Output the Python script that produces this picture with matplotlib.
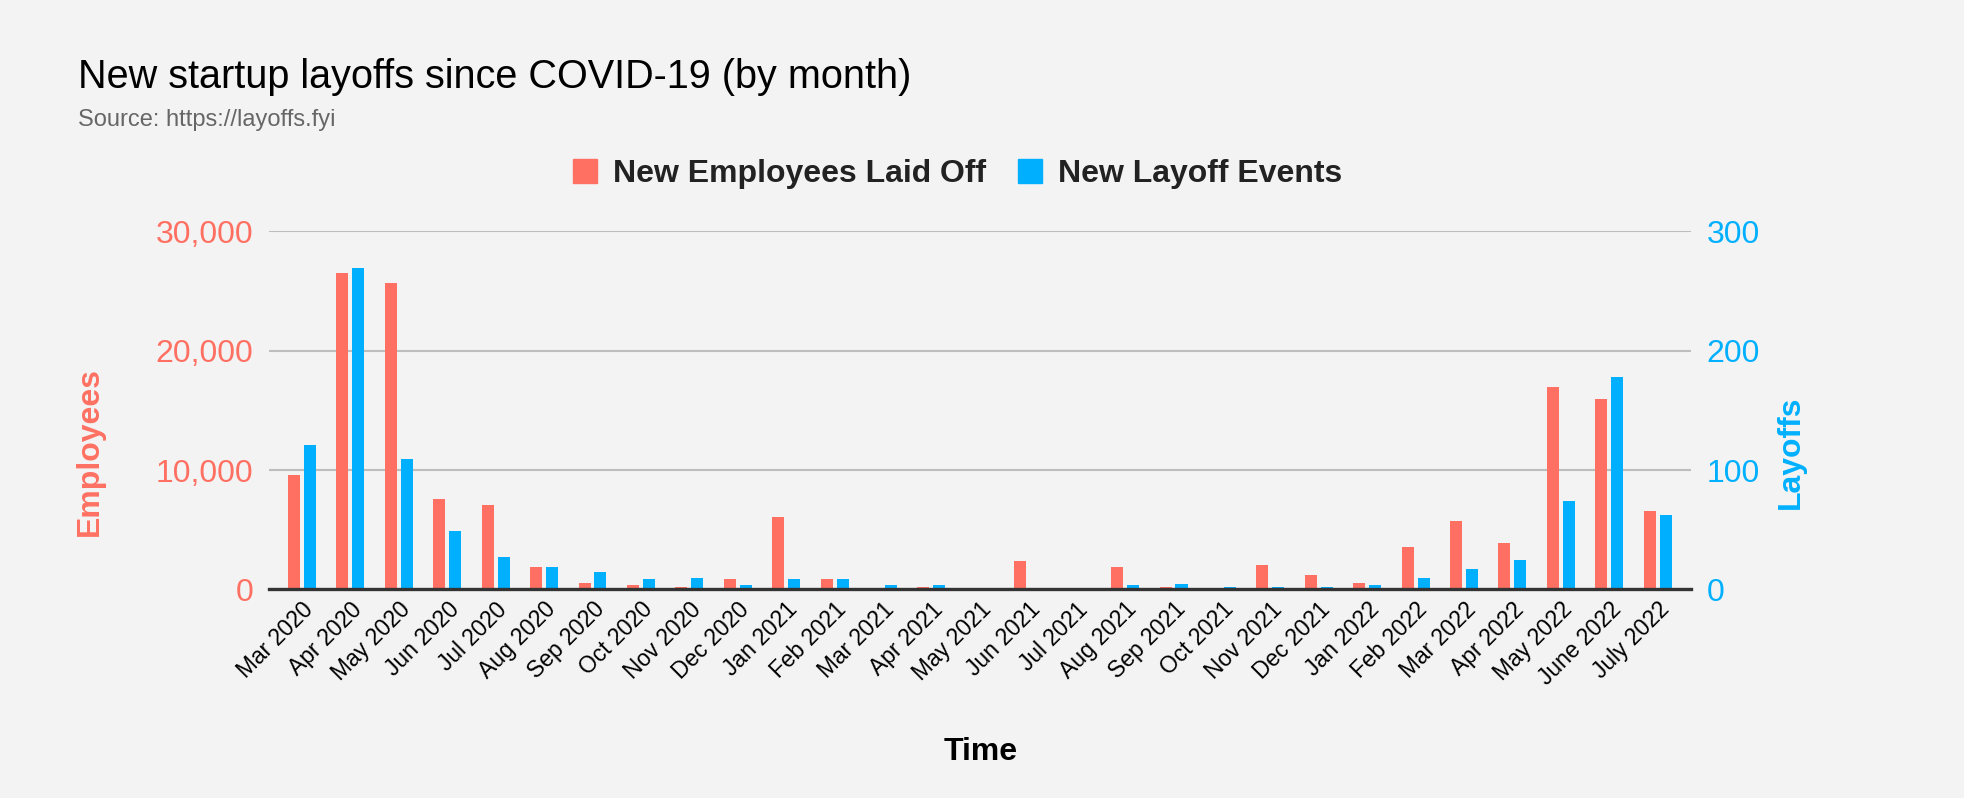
import numpy as np
import matplotlib
matplotlib.use('Agg')
import matplotlib.pyplot as plt
from matplotlib.patches import Patch

plt.rcParams['font.family'] = ['Liberation Sans', 'DejaVu Sans']

months = ['Mar 2020', 'Apr 2020', 'May 2020', 'Jun 2020', 'Jul 2020', 'Aug 2020',
          'Sep 2020', 'Oct 2020', 'Nov 2020', 'Dec 2020', 'Jan 2021', 'Feb 2021',
          'Mar 2021', 'Apr 2021', 'May 2021', 'Jun 2021', 'Jul 2021', 'Aug 2021',
          'Sep 2021', 'Oct 2021', 'Nov 2021', 'Dec 2021', 'Jan 2022', 'Feb 2022',
          'Mar 2022', 'Apr 2022', 'May 2022', 'June 2022', 'July 2022']
employees = [9580, 26540, 25700, 7560, 7070, 1870, 530, 360, 200, 870, 6070, 870,
             0, 200, 0, 2380, 0, 1870, 200, 0, 2040, 1200, 530, 3550,
             5730, 3870, 16970, 15970, 6560]
events = [121, 269, 109, 49, 27, 19, 15, 9, 10, 4, 9, 9,
          4, 4, 0, 0, 0, 4, 5, 2, 2, 2, 4, 10,
          17, 25, 74, 178, 62]

RED = '#ff7062'
BLUE = '#00b0ff'
BG = '#f3f3f3'

fig = plt.figure(figsize=(19.64, 7.98), dpi=100, facecolor=BG)
ax = fig.add_axes([0.137, 0.2613, 0.7238, 0.4486])
ax.set_facecolor(BG)
ax2 = ax.twinx()

x = np.arange(len(months))
w = 0.248
ax.bar(x - 0.165, employees, w, color=RED, zorder=2)
ax2.bar(x + 0.165, events, w, color=BLUE, zorder=2)

ax.set_xlim(-0.68, len(months) - 1 + 0.68)
ax.set_ylim(0, 30000)
ax2.set_ylim(0, 300)
ax.set_yticks([0, 10000, 20000, 30000])
ax.set_yticklabels(['0', '10,000', '20,000', '30,000'])
ax2.set_yticks([0, 100, 200, 300])
ax.grid(axis='y', color='#bdbdbd', lw=1.5, zorder=0)
ax.set_axisbelow(True)
ax2.axhline(0, color='#333333', lw=2.4, zorder=5, clip_on=False)

for a in (ax, ax2):
    for s in a.spines.values():
        s.set_visible(False)
ax.tick_params(axis='y', length=0, pad=11.5, labelsize=23, labelcolor=RED)
ax2.tick_params(axis='y', length=0, pad=11.5, labelsize=23, labelcolor=BLUE)
ax.set_xticks(x)
ax.set_xticklabels(months, rotation=45, ha='right', rotation_mode='anchor',
                   fontsize=16.5)
ax.tick_params(axis='x', length=0, pad=6)

fig.text(0.0397, 0.8897, 'New startup layoffs since COVID-19 (by month)',
         fontsize=28.5, color='#000000')
fig.text(0.0397, 0.842, 'Source: https://layoffs.fyi', fontsize=17, color='#666666')

fig.text(0.0458, 0.4336, 'Employees', rotation=90, ha='center', va='center',
         fontsize=23, fontweight='bold', color=RED)
fig.text(0.912, 0.4336, 'Layoffs', rotation=90, ha='center', va='center',
         fontsize=23, fontweight='bold', color=BLUE)
fig.text(0.4995, 0.0576, 'Time', ha='center', va='center',
         fontsize=23, fontweight='bold', color='#000000')

handles = [Patch(color=RED, label='New Employees Laid Off'),
           Patch(color=BLUE, label='New Layoff Events')]
leg = fig.legend(handles=handles, loc='center', bbox_to_anchor=(0.4875, 0.782),
                 ncol=2, frameon=False, handlelength=0.75, handleheight=0.75,
                 handletextpad=0.5, columnspacing=1.0,
                 prop={'size': 23, 'weight': 'bold'})
for t in leg.get_texts():
    t.set_color('#222222')

fig.savefig('out.png', dpi=100, facecolor=BG)
